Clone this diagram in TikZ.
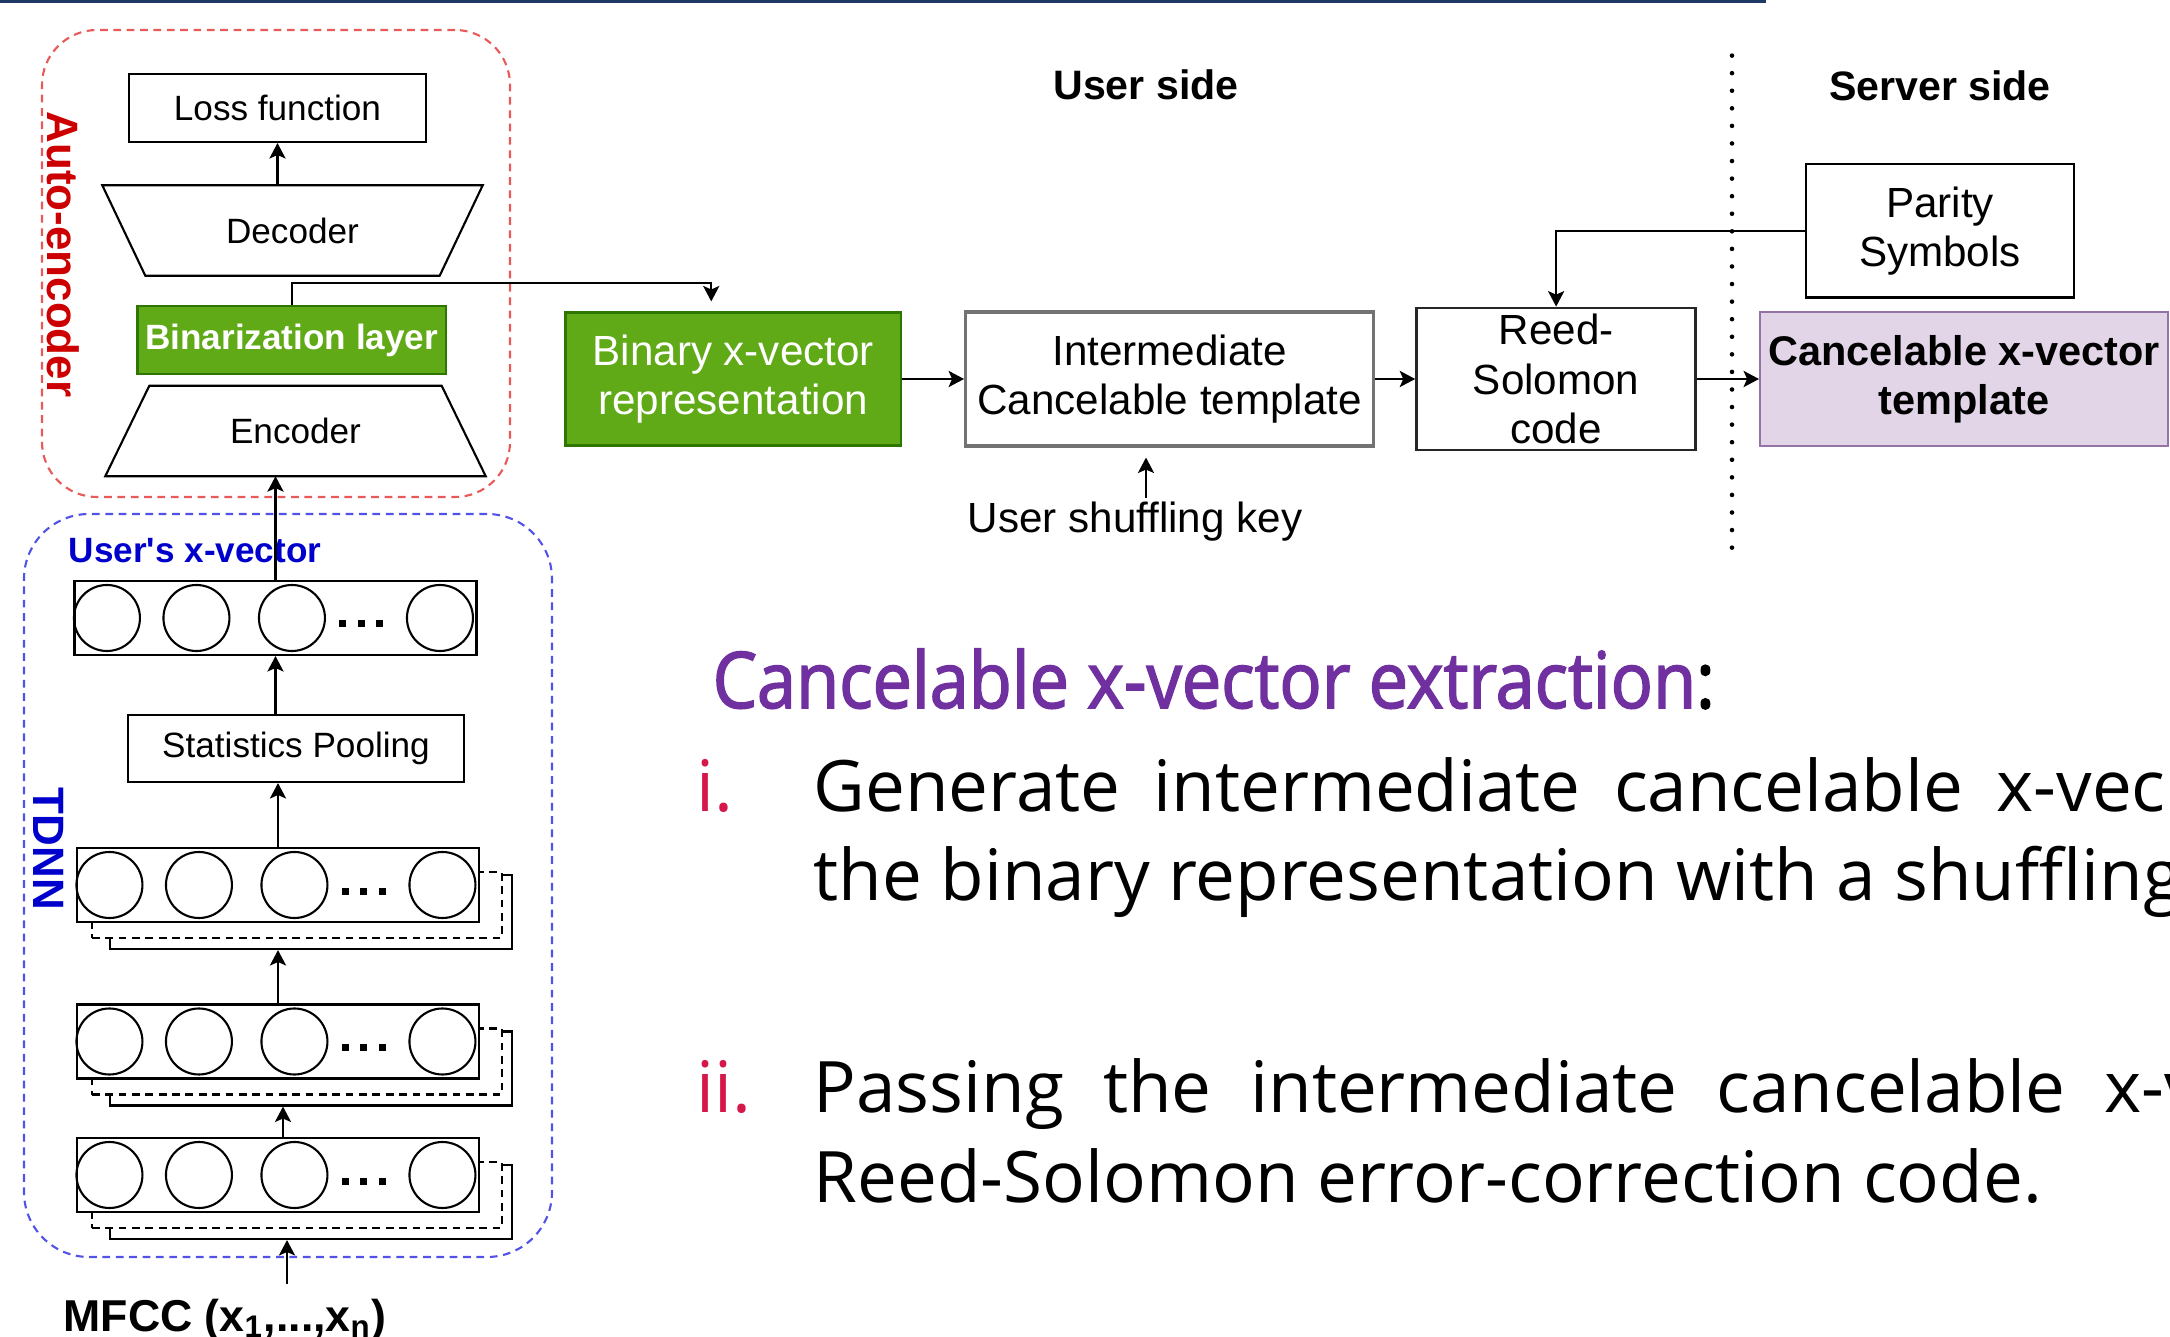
\documentclass[tikz,border=0pt]{standalone}
\usepackage{fontspec}
\setmainfont{Liberation Sans}
\newfontfamily\slidefont{Open Sans}
\newfontfamily\headfont[FakeStretch=0.9,FakeBold=2]{Open Sans}
\usetikzlibrary{arrows.meta,positioning,calc,backgrounds}
\definecolor{navy}{HTML}{1F3864}
\definecolor{aered}{HTML}{E85A5A}
\definecolor{aetext}{HTML}{CC0000}
\definecolor{tdblue}{HTML}{5252E6}
\definecolor{tdtext}{HTML}{0000CC}
\definecolor{bingreen}{HTML}{60A917}
\definecolor{bingreenD}{HTML}{2D7600}
\definecolor{tplfill}{HTML}{E1D5E7}
\definecolor{tpldraw}{HTML}{9673A6}
\definecolor{headpurple}{HTML}{7030A0}
\definecolor{itemred}{HTML}{D5174A}
\tikzset{
  % Plain boxes: small label (left column) and medium label (pipeline)
  sbox/.style={draw, rectangle, fill=white, line width=0.6pt, inner sep=1pt,
               align=center, font=\fontsize{10}{12}\selectfont},
  mbox/.style={draw, rectangle, fill=white, line width=0.6pt, inner sep=1pt,
               align=center, font=\fontsize{12}{14}\selectfont},
  greenbox/.style={mbox, fill=bingreen, draw=bingreenD, text=white},
  tplbox/.style={mbox, fill=tplfill, draw=tpldraw, font=\fontsize{11.8}{14}\selectfont\bfseries},
  % Encoder / decoder: text node on the narrow side, outline drawn round it
  trapnode/.style={rectangle, minimum width=2.92cm, minimum height=0.89cm, inner sep=1pt,
                   font=\fontsize{10}{12}\selectfont},
  trapline/.style={draw, line width=0.6pt, line join=miter},
  % TDNN rows, units and the stacked frames behind them
  tdrow/.style={draw, rectangle, fill=white, line width=0.6pt, minimum width=4.02cm,
                minimum height=0.74cm, inner sep=0pt},
  unitc/.style={draw, circle, minimum size=0.66cm, inner sep=0pt, line width=0.6pt},
  stacksolid/.style={tdrow},
  stackdash/.style={tdrow, dash pattern=on 2.2pt off 1.6pt, minimum width=4.10cm, minimum height=0.66cm},
  % Enclosures
  aebox/.style={draw=aered, dash pattern=on 2.2pt off 1.6pt, line width=0.6pt,
                rounded corners=0.55cm, minimum width=4.68cm, minimum height=4.67cm},
  tdbox/.style={draw=tdblue, dash pattern=on 2.2pt off 1.6pt, line width=0.6pt,
                rounded corners=0.65cm, minimum width=5.28cm, minimum height=7.43cm},
  sidelab/.style={rotate=-90, inner sep=0pt, font=\fontsize{12.5}{15}\selectfont\bfseries},
  sidehead/.style={anchor=base, inner sep=0pt, font=\fontsize{11.7}{14}\selectfont\bfseries},
  % Arrows
  flowarr/.style={-{Stealth[length=4.4pt,width=4.6pt,inset=1pt]}, line width=0.6pt},
  divider/.style={line width=1.3pt, line cap=round, dash pattern=on 0pt off 5pt},
  % Slide text
  bodytext/.style={anchor=base west, inner sep=0pt, font=\slidefont\fontsize{20.2}{25}\selectfont}
}
% units of one TDNN row
\newcommand{\unitrow}[1]{%
  \foreach \cx [count=\k] in {0.335,1.23,2.185,3.665}
    \node[unitc] (#1u\k) at ([xshift=\cx cm]#1.west) {};
  \foreach \dx in {2.695,2.88,3.065}
    \fill ([xshift=\dx cm,yshift=-0.06cm]#1.west) ++(-0.035,-0.035) rectangle ++(0.07,0.07);
}

\begin{document}
\begin{tikzpicture}
\useasboundingbox (0,0) rectangle (21.70,-13.37);
\clip (0,0) rectangle (21.70,-13.37);

% slide title rule
\draw[navy, line width=0.9pt] (0,-0.015) -- (17.66,-0.015);

% ============== Auto-encoder ==============
\node[sbox, minimum width=2.97cm, minimum height=0.68cm] (loss) at (2.775,-1.08) {Loss function};
\node[trapnode, minimum width=2.93cm] (dec) at (2.925,-2.305) {Decoder};
\draw[trapline] ([xshift=-0.43cm]dec.north west) -- ([xshift=0.43cm]dec.north east)
  -- (dec.south east) -- (dec.south west) -- cycle;
\node[greenbox, font=\fontsize{10}{12}\selectfont\bfseries, minimum width=3.085cm, minimum height=0.68cm]
  (binz) at (2.9175,-3.40) {Binarization layer};
\node[trapnode, minimum width=2.91cm] (enc) at (2.955,-4.31) {Encoder};
\draw[trapline] (enc.north west) -- (enc.north east)
  -- ([xshift=0.44cm]enc.south east) -- ([xshift=-0.44cm]enc.south west) -- cycle;
\node[sidelab, text=aetext] (aelab) at (0.63,-2.545) {Auto-encoder};

% ============== TDNN ==============
\node[tdrow] (xvec) at (2.755,-6.18) {};
\node[sbox, minimum width=3.36cm, minimum height=0.67cm] (pool) at (2.96,-7.485) {Statistics Pooling};
\node[tdrow] (L3) at (2.78,-8.85) {};
\node[tdrow] (L2) at (2.78,-10.415) {};
\node[tdrow] (L1) at (2.78,-11.75) {};
\foreach \r in {xvec,L3,L2,L1} {\unitrow{\r}}

\node[anchor=base west, inner sep=0pt, text=tdtext, font=\fontsize{10}{12}\selectfont\bfseries]
  (xveclab) at (0.68,-5.63) {User\textquotesingle s x-vector};
\node[sidelab, text=tdtext] (tdlab) at (0.49,-8.49) {TDNN};
\node[anchor=base west, inner sep=0pt, font=\fontsize{12.7}{15}\selectfont\bfseries]
  (mfcc) at (0.63,-13.31) {MFCC (x\textsubscript{1},...,x\textsubscript{n})};
\coordinate (mfccin) at (2.87,-12.84);

\begin{scope}[on background layer]
  \node[aebox] (ae) at (2.76,-2.635) {};
  \node[tdbox] (tdnn) at (2.88,-8.855) {};
  \foreach \r in {L3,L2,L1} {
    \node[stacksolid] (\r s) at ([xshift=0.33cm,yshift=-0.27cm]\r.center) {};
    \node[stackdash] (\r d) at ([xshift=0.19cm,yshift=-0.20cm]\r.center) {};
  }
\end{scope}

% ============== Pipeline ==============
\node[sidehead] (userside) at (11.46,-0.995) {User side};
\node[sidehead] (serverside) at (19.40,-1.006) {Server side};
\coordinate (divtop) at (17.32,-0.556);
\coordinate (divbot) at (17.32,-5.56);
\draw[divider] (divtop) -- (divbot);

\node[greenbox, minimum width=3.355cm, minimum height=1.33cm] (binvec) at (7.3325,-3.79)
  {Binary x-vector\\representation};
\node[mbox, right=0.62cm of binvec, minimum width=4.08cm, minimum height=1.34cm,
      draw=black!55, line width=0.9pt] (inter) {Intermediate\\Cancelable template};
\node[mbox, right=0.40cm of inter, minimum width=2.79cm, minimum height=1.42cm,
      draw=black!85, line width=0.8pt] (rs) {Reed-\\Solomon\\code};
\node[tplbox, right=0.62cm of rs, minimum width=4.08cm, minimum height=1.34cm] (tpl)
  {Cancelable x-vector\\template};
\node[mbox, minimum width=2.68cm, minimum height=1.335cm] (parity) at (19.40,-2.3075) {Parity\\Symbols};
\node[anchor=base, inner sep=1pt, font=\fontsize{12}{14}\selectfont] (key) at (11.35,-5.33) {User shuffling key};

% ============== Connectors ==============
\draw[flowarr] (dec.north -| loss.south) -- (loss.south);
\draw[flowarr] (xvec.north) -- (xvec.north |- enc.south);
\draw[flowarr] (pool.north -| xvec.north) -- (xvec.south);
\draw[flowarr] (L3.north) -- (L3.north |- pool.south);
\draw[flowarr] (L2.north) -- (L2.north |- L3s.south);
\draw[flowarr] ([xshift=0.05cm]L1.north) -- ([xshift=0.05cm]L1.north |- L2s.south);
\draw[flowarr] (mfccin) -- (mfccin |- L1s.south);
\draw[flowarr] (binz.north) |- ([xshift=-0.22cm,yshift=0.28cm]binvec.north)
  -- ([xshift=-0.22cm,yshift=0.10cm]binvec.north);
\draw[flowarr] (binvec.east) -- (inter.west);
\draw[flowarr] (inter.east) -- (rs.west);
\draw[flowarr] (rs.east) -- (tpl.west);
\draw[flowarr] (parity.west) -| (rs.north);
\draw[flowarr] ([xshift=0.11cm]key.north) -- ([xshift=0.11cm,yshift=-0.1cm]key.north |- inter.south);

% ============== Slide text ==============
\node[anchor=base west, inner sep=0pt, font=\headfont\fontsize{22.2}{26}\selectfont] (head)
  at (7.12,-7.08) {\textcolor{headpurple}{Cancelable x-vector extraction}:};
\node[bodytext, text=itemred] (item1) at (6.96,-8.11) {i.};
\node[bodytext] (line1) at (8.13,-8.11) {\makebox[13.52cm][s]{Generate intermediate cancelable x-vec}};
\node[bodytext] (line2) at (8.13,-9.00) {the binary representation with a shuffling};
\node[bodytext, text=itemred] (item2) at (6.96,-11.12) {ii.};
\node[bodytext] (line3) at (8.13,-11.12) {\makebox[13.51cm][s]{Passing the intermediate cancelable x-}v};
\node[bodytext] (line4) at (8.13,-12.02) {Reed-Solomon error-correction code.};
\end{tikzpicture}
\end{document}
